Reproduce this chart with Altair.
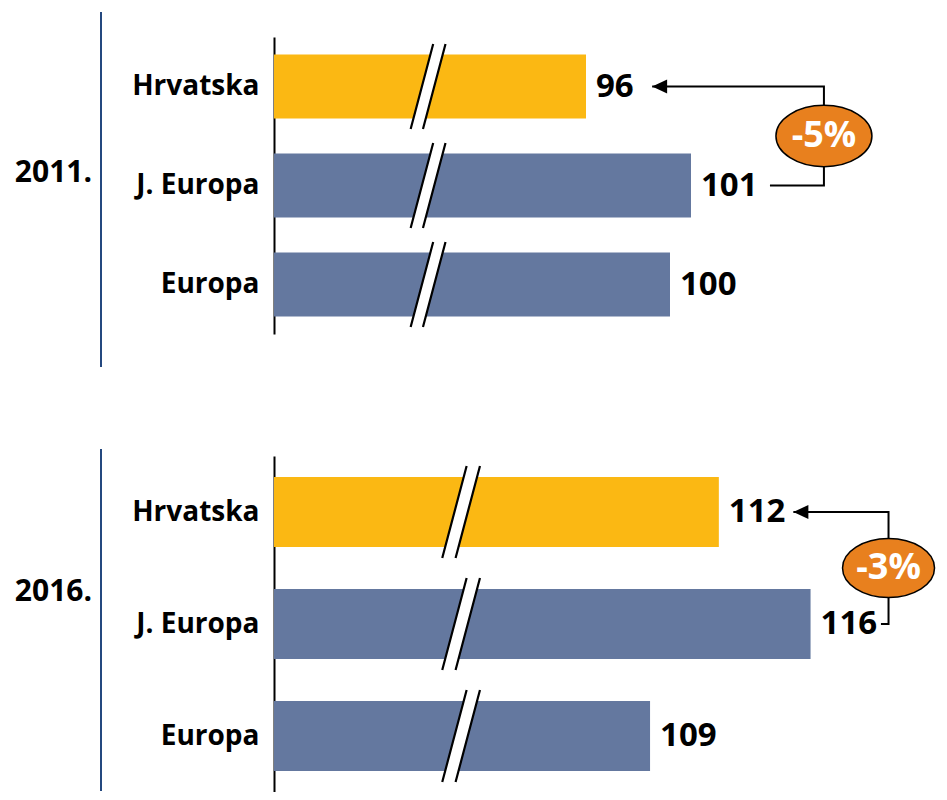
import altair as alt
import pandas as pd

categories = ["Hrvatska", "J. Europa", "Europa"]
years = ["2011.", "2016."]
values_2011 = [96, 101, 100]
values_2016 = [112, 116, 109]
changes = ["-5%", "-3%"]
bar_colors = ["#FBB813", "#64789F", "#64789F"]

FONT = "Open Sans"
W = 560

BREAK_FILL = "M -0.41 1 L 0.12 -1 L 0.41 -1 L -0.12 1 Z"
BREAK_LINES = "M -0.41 1 L 0.12 -1 M -0.12 1 L 0.41 -1"
ELLIPSE = "M -1 0 A 1 0.64 0 1 1 1 0 A 1 0.64 0 1 1 -1 0 Z"
ARROW = "M 0 0 L 1 -0.47 L 1 0.47 Z"


def panel(year, values, change, height, domain, bar_frac, break_at, break_size,
          conn_x, start_off, tip_off, line_top, line_bottom, badge_w):
    n = len(categories)
    df = pd.DataFrame({"cat": categories, "value": values,
                       "row": list(range(n)), "color": bar_colors})
    base = alt.Chart(df)
    xs = alt.Scale(domain=domain, nice=False, zero=False)
    ys = alt.Scale(domain=[-0.5, n - 0.5], reverse=True, nice=False, zero=False)
    label_expr = "[" + ",".join("'%s'" % c for c in categories) + "][datum.value]"
    y_axis = alt.Axis(values=list(range(n)), labelExpr=label_expr, title=None,
                      ticks=False, tickSize=0, grid=False, domainColor="black",
                      domainWidth=2, labelFont=FONT, labelFontWeight="bold",
                      labelFontSize=28, labelColor="black", labelPadding=15)

    def X(field):
        return alt.X(field, scale=xs, axis=None)

    def Y(field):
        return alt.Y(field, scale=ys, axis=y_axis)

    bars = base.transform_calculate(
        y0="datum.row - %f" % (bar_frac / 2), y1="datum.row + %f" % (bar_frac / 2)
    ).mark_rect().encode(
        x=X("value:Q"), x2=alt.value(0), y=Y("y0:Q"), y2="y1:Q",
        color=alt.Color("color:N", scale=None))

    brk_fill = base.mark_point(shape=BREAK_FILL, filled=True, fill="white",
                               strokeWidth=0, opacity=1, size=break_size).encode(
        x=alt.X(datum=break_at, scale=xs, axis=None), y=Y("row:Q"))
    brk_lines = base.mark_point(shape=BREAK_LINES, filled=False, stroke="black",
                                strokeWidth=2.2, opacity=1, size=break_size).encode(
        x=alt.X(datum=break_at, scale=xs, axis=None), y=Y("row:Q"))

    vals = base.mark_text(align="left", baseline="middle", dx=10, font=FONT,
                          fontWeight="bold", fontSize=33, color="black").encode(
        x=X("value:Q"), y=Y("row:Q"), text="value:Q")

    conn = pd.DataFrame({
        "x": [values[1] + start_off, conn_x, conn_x, values[0] + tip_off],
        "y": [1, 1, 0, 0],
        "o": [0, 1, 2, 3]})
    line = alt.Chart(conn).mark_line(color="black", strokeWidth=2).encode(
        x=X("x:Q"), y=Y("y:Q"), order="o:Q")
    arrow = alt.Chart(conn.iloc[[3]]).mark_point(
        shape=ARROW, filled=True, fill="black", strokeWidth=0, opacity=1, size=900
    ).encode(x=X("x:Q"), y=Y("y:Q"))

    badge_df = pd.DataFrame({"x": [conn_x], "y": [0.5], "t": [change]})
    ellipse = alt.Chart(badge_df).mark_point(
        shape=ELLIPSE, filled=True, fill="#E8801E", stroke="black",
        strokeWidth=1.5, opacity=1, size=badge_w ** 2
    ).encode(x=X("x:Q"), y=Y("y:Q"))
    pct = alt.Chart(badge_df).mark_text(
        align="center", baseline="middle", font=FONT, fontWeight="bold",
        fontSize=36, color="white").encode(x=X("x:Q"), y=Y("y:Q"), text="t:N")

    ydf = pd.DataFrame({"year": [year]})
    ytxt = alt.Chart(ydf).mark_text(
        align="right", baseline="middle", font=FONT, fontWeight="bold",
        fontSize=30, color="black").encode(
        x=alt.value(-182), y=alt.value(136), text="year:N")
    vline = alt.Chart(ydf).mark_rule(color="#24487F", strokeWidth=2).encode(
        x=alt.value(-173), y=alt.value(line_top), y2=alt.value(line_bottom))

    return alt.layer(bars, brk_fill, brk_lines, vals, line, arrow, ellipse, pct,
                     ytxt, vline).properties(width=W, height=height)


p1 = panel(years[0], values_2011, changes[0], 297, [81.143, 81.143 + W / 21.0],
           64 / 99, 88.48, 85 ** 2, 107.33, 3.76, 3.15, -25, 330, 96)
p2 = panel(years[1], values_2016, changes[1], 336, [92.6, 92.6 + W / 22.93],
           70 / 112, 100.76, 92 ** 2, 119.4, 3.07, 3.25, -7, 335, 92)

chart = alt.vconcat(p1, p2, spacing=80).properties(
    padding={"left": 6, "top": 3, "right": 0, "bottom": 0},
    background="white"
).configure_view(strokeWidth=0)

chart.save("out.html", embed_options={"renderer": "svg", "actions": False})
